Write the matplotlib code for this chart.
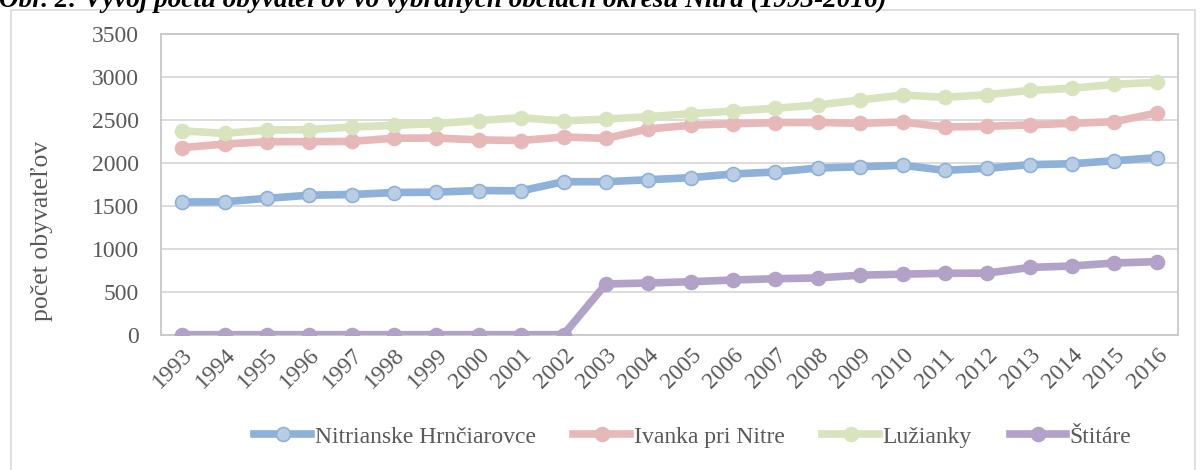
import matplotlib
matplotlib.use('Agg')
import matplotlib.pyplot as plt
from matplotlib.patches import Rectangle

years = [str(y) for y in range(1993, 2017)]

nitrianske = [1543, 1545, 1586, 1622, 1630, 1653, 1658, 1676, 1673, 1779,
              1779, 1802, 1826, 1869, 1892, 1938, 1953, 1970, 1911, 1935,
              1977, 1988, 2023, 2058]
ivanka = [2175, 2217, 2244, 2244, 2248, 2285, 2287, 2265, 2258, 2299,
          2283, 2392, 2435, 2454, 2466, 2469, 2458, 2473, 2415, 2423,
          2440, 2458, 2477, 2578]
luzianky = [2369, 2342, 2380, 2384, 2415, 2435, 2455, 2490, 2523, 2485,
            2508, 2535, 2570, 2601, 2633, 2671, 2729, 2787, 2760, 2791,
            2840, 2865, 2911, 2935]
stitare = [0, 0, 0, 0, 0, 0, 0, 0, 0, 0,
           590, 601, 616, 636, 651, 660, 692, 704, 714, 716,
           782, 799, 834, 849]

series = [
    ("Nitrianske Hrnčiarovce", nitrianske, '#8eb1d9', '#b9cde5', '#8eb1d9'),
    ("Ivanka pri Nitre", ivanka, '#e6b9b8', '#e6b9b8', '#e6b9b8'),
    ("Lužianky", luzianky, '#d7e4bd', '#d7e4bd', '#d7e4bd'),
    ("Štitáre", stitare, '#b3a2c7', '#b3a2c7', '#b3a2c7'),
]

plt.rcParams['font.family'] = ['Liberation Serif', 'DejaVu Serif']
text_color = '#595959'

fig = plt.figure(figsize=(12.01, 4.70), dpi=100)
ax = fig.add_axes([161 / 1201, 1 - 334.7 / 470, (1178 - 161) / 1201, (334.7 - 33.7) / 470])

# outer chart frame
fig.patches.append(Rectangle((11 / 1201, -0.05), (1195 - 11) / 1201, 1.05 - 9.5 / 470,
                             transform=fig.transFigure, fill=False,
                             edgecolor='#d9d9d9', linewidth=1.2))

x = list(range(len(years)))
for name, vals, lc, fc, ec in series:
    ax.plot(x, vals, color=lc, linewidth=5.5, marker='o', markersize=10,
            markerfacecolor=fc, markeredgecolor=ec, markeredgewidth=1.2,
            label=name, solid_joinstyle='round', zorder=3)

ax.set_xlim(-0.5, len(years) - 0.5)
ax.set_ylim(0, 3500)
ax.set_yticks(range(0, 3501, 500))
ax.set_xticks(x)
ax.set_xticklabels(years, rotation=45, ha='right', rotation_mode='anchor')
ax.tick_params(length=0, labelsize=17, colors=text_color)
ax.tick_params(axis='y', pad=16)
ax.tick_params(axis='x', pad=7)
ax.grid(axis='y', color='#d9d9d9', linewidth=1.3)
ax.set_axisbelow(True)
for s in ax.spines.values():
    s.set_color('#c8c8c8')
    s.set_linewidth(1.3)

fig.text(42 / 1201, 1 - 231 / 470, 'počet obyvateľov', rotation=90,
         ha='center', va='center', fontsize=18.5, color=text_color)

fig.text(-1 / 1201, 1 - 7 / 470, 'Obr. 2: Vývoj počtu obyvateľov vo vybraných obciach okresu Nitra (1993-2016)',
         ha='left', va='baseline', fontsize=19.5, fontweight='bold', fontstyle='italic', color='black')

leg = fig.legend(loc='center', bbox_to_anchor=(693 / 1201, 1 - 437 / 470), ncol=4,
                 frameon=False, fontsize=17, handlelength=2.4, handletextpad=0.15,
                 columnspacing=1.6, labelcolor=text_color)

fig.savefig('out.png', dpi=100)
